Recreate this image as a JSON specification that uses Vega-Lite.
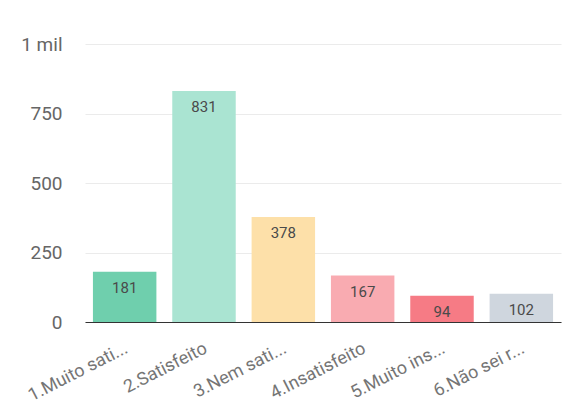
{
  "$schema": "https://vega.github.io/schema/vega-lite/v6.json",
  "autosize": {"type": "none"},
  "padding": {"left": 85, "top": 44, "right": 2, "bottom": 83},
  "width": 476,
  "height": 278,
  "background": "white",
  "config": {"view": {"stroke": null}, "font": "Roboto"},
  "data": {"values": [
    {"cat": "1.Muito sati...", "v": 181, "c": "#6fcfad"},
    {"cat": "2.Satisfeito", "v": 831, "c": "#aae4d2"},
    {"cat": "3.Nem sati...", "v": 378, "c": "#fde0a9"},
    {"cat": "4.Insatisfeito", "v": 167, "c": "#f9abb1"},
    {"cat": "5.Muito ins...", "v": 94, "c": "#f67b85"},
    {"cat": "6.Não sei r...", "v": 102, "c": "#cfd6de"}
  ]},
  "encoding": {
    "x": {"field": "cat", "type": "nominal", "sort": null,
      "scale": {"paddingInner": 0.2, "paddingOuter": 0.1},
      "axis": {"title": null, "labelAngle": -27, "labelAlign": "right", "labelBaseline": "top",
        "labelFontSize": 18, "labelColor": "#757575", "ticks": false, "domainColor": "#333", "labelPadding": 17, "labelOffset": -2, "labelFont": "Roboto", "labelLimit": 300}},
    "y": {"field": "v", "type": "quantitative",
      "scale": {"domain": [0, 1000]},
      "axis": {"title": null, "values": [0, 250, 500, 750, 1000], "labelExpr": "datum.value == 1000 ? '1 mil' : datum.label",
        "domain": false, "ticks": false, "labelPadding": 23, "labelFontSize": 19, "labelColor": "#666",
        "gridColor": "#ebebeb", "labelFont": "Roboto"}}
  },
  "layer": [
    {"mark": {"type": "bar"}, "encoding": {"color": {"field": "c", "type": "nominal", "scale": null}}},
    {"mark": {"type": "text", "baseline": "top", "dy": 9, "fontSize": 15, "color": "#4a4a4a", "font": "Roboto"},
     "encoding": {"text": {"field": "v", "type": "quantitative"}}}
  ]
}
